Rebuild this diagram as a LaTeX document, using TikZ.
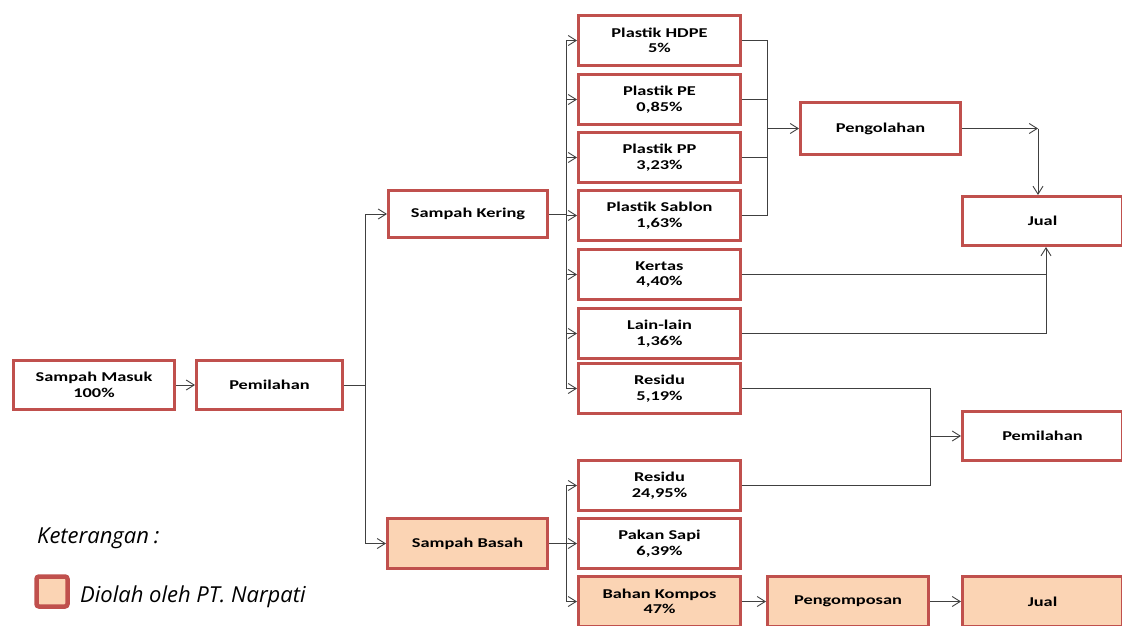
\documentclass[tikz,border=0pt]{standalone}
\usepackage{fontspec}
\usetikzlibrary{arrows.meta}
\newfontfamily\bxfont{Carlito}[FakeStretch=1.36]
\newfontfamily\lgfont{Open Sans}
\definecolor{bred}{HTML}{C0504D}
\definecolor{peach}{HTML}{FBD4B4}
\definecolor{conn}{HTML}{404040}
\tikzset{
  box/.style={draw=bred, line width=3pt, fill=white, rectangle, align=center,
    font=\bxfont\bfseries\fontsize{13.5}{15.5}\selectfont, inner sep=1pt,
    minimum width=161pt, minimum height=50pt},
  pbox/.style={box, fill=peach},
  cbox/.style={box, minimum width=162pt, minimum height=50pt},
  line/.style={draw=conn, line width=0.9pt},
  arr/.style={line, -{Straight Barb[length=8pt,width=10pt,line width=0.9pt]}},
  lgtext/.style={font=\lgfont\itshape\fontsize{22}{26}\selectfont, anchor=base west, inner sep=0pt}
}
\begin{document}
\begin{tikzpicture}[x=1pt,y=-1pt]
\useasboundingbox (0,0) rectangle (1122,626);
% left chain
\node[box, minimum width=161pt, minimum height=49pt] (masuk) at (94,385) {Sampah Masuk\\100\%};
\node[box, minimum width=146pt, minimum height=49pt] (pem1) at (269.5,385) {Pemilahan};
\node[box, minimum width=159pt, minimum height=47pt] (kering) at (468,214) {Sampah Kering};
\node[pbox, minimum width=160pt, minimum height=50pt] (basah) at (467.5,543.5) {Sampah Basah};
% column
\node[cbox] (hdpe) at (659.5,40.5) {Plastik HDPE\\5\%};
\node[cbox] (pe) at (659.5,99.5) {Plastik PE\\0,85\%};
\node[cbox] (pp) at (659.5,157.5) {Plastik PP\\3,23\%};
\node[cbox] (sablon) at (659.5,215.5) {Plastik Sablon\\1,63\%};
\node[cbox] (kertas) at (659.5,274.5) {Kertas\\4,40\%};
\node[cbox] (lain) at (659.5,333.5) {Lain-lain\\1,36\%};
\node[cbox] (res1) at (659.5,388.5) {Residu\\5,19\%};
\node[cbox] (res2) at (659.5,485.5) {Residu\\24,95\%};
\node[cbox] (pakan) at (659.5,543.5) {Pakan Sapi\\6,39\%};
\node[pbox, minimum width=162pt, minimum height=50pt] (kompos) at (659.5,601.5) {Bahan Kompos\\47\%};
% right
\node[box, minimum width=160pt, minimum height=52pt] (olah) at (880.5,128.5) {Pengolahan};
\node[box, minimum width=160pt, minimum height=49pt] (jual1) at (1042.5,221) {Jual};
\node[box, minimum width=160pt, minimum height=49pt] (pem2) at (1042.5,436) {Pemilahan};
\node[pbox, minimum width=161pt, minimum height=50pt] (kompost) at (848,601.5) {Pengomposan};
\node[pbox, minimum width=160pt, minimum height=50pt] (jual2) at (1042.5,601.5) {Jual};
% connectors
\draw[arr] (masuk.east) -- (pem1.west);
\draw[arr] (pem1.east) -- ++(21,0) |- (kering.west);
\draw[arr] (pem1.east) -- ++(21,0) |- (basah.west);
\foreach \n in {hdpe,pe,pp,sablon,kertas,lain,res1}
  \draw[arr] (kering.east) -- ++(17,0) |- (\n.west);
\foreach \n in {res2,pakan,kompos}
  \draw[arr] (basah.east) -- ++(17,0) |- (\n.west);
\coordinate (mg) at (767,128.5);
\foreach \n in {hdpe,pe,pp,sablon}
  \draw[line] (\n.east) -| (mg);
\draw[arr] (mg) -- (olah.west);
\coordinate (c1) at (1038,128.5);
\draw[arr] (olah.east) -- (c1);
\draw[arr] (c1) -- (c1 |- jual1.north);
\coordinate (c2) at (1046,274.5);
\draw[line] (kertas.east) -- (c2);
\draw[arr] (lain.east) -| ([xshift=3.5pt]jual1.south);
\coordinate (rm) at (930,436);
\draw[line] (res1.east) -| (rm);
\draw[line] (res2.east) -| (rm);
\draw[arr] (rm) -- (pem2.west);
\draw[arr] (kompos.east) -- (kompost.west);
\draw[arr] (kompost.east) -- (jual2.west);
% legend
\node[lgtext] (ket) at (37,543) {Keterangan\hspace{5pt}:};
\node[draw=bred, fill=peach, line width=4.5pt, rounded corners=2.5pt, minimum width=31pt, minimum height=30pt, inner sep=0pt] (lgbox) at (52,591.5) {};
\node[lgtext] (lgt) at (80,602) {Diolah oleh PT. Narpati};
\end{tikzpicture}
\end{document}
